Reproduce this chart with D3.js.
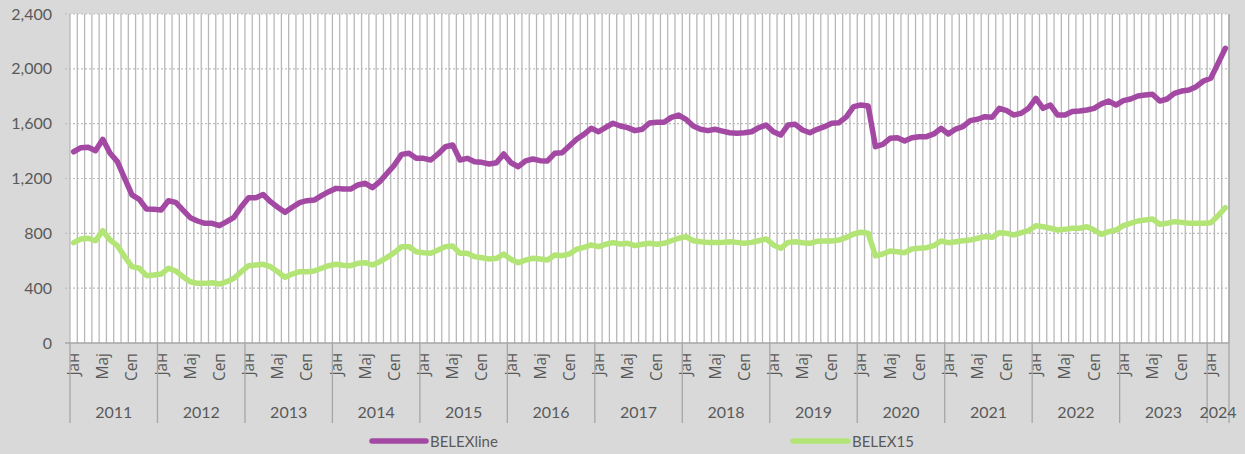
<!DOCTYPE html>
<html>
<head>
<meta charset="utf-8">
<script src="https://cdn.jsdelivr.net/npm/d3@7"></script>
<style>
  html, body { margin: 0; padding: 0; background: #d9d9d9; }
  svg { display: block; font-family: Lato, "Noto Sans", sans-serif; }
</style>
</head>
<body>
<svg id="chart" width="1245" height="454"></svg>
<script>
// ---- data ----
const years = ["2011","2012","2013","2014","2015","2016","2017","2018","2019","2020","2021","2022","2023","2024"];
const monthNames = ["Јан","Феб","Мар","Апр","Мај","Јун","Јул","Авг","Сеп","Окт","Нов","Дец"];
const monthTickLabels = {0: "Јан", 4: "Мај", 8: "Сеп"};
const seriesNames = ["BELEXline", "BELEX15"];
const yTicks = [0, 400, 800, 1200, 1600, 2000, 2400];

const belexline = [
  1395,1425,1428,1403,1486,1384,1323,1201,1080,1048,977,975,
  970,1038,1026,970,914,890,873,873,856,885,917,994,
  1060,1060,1083,1031,990,953,990,1024,1038,1043,1075,1104,
  1128,1123,1123,1153,1165,1133,1177,1238,1298,1376,1384,1347,
  1347,1335,1379,1432,1444,1335,1347,1323,1318,1306,1315,1379,
  1315,1286,1328,1342,1330,1328,1384,1388,1437,1486,1522,1566,
  1541,1573,1603,1583,1571,1549,1559,1605,1610,1610,1646,1663,
  1632,1583,1559,1549,1559,1546,1534,1530,1534,1541,1571,1590,
  1541,1517,1590,1595,1554,1534,1559,1578,1603,1607,1650,1724,
  1736,1729,1432,1449,1493,1498,1474,1498,1505,1505,1525,1566,
  1525,1561,1578,1622,1632,1651,1646,1712,1695,1663,1676,1712,
  1785,1712,1736,1663,1663,1688,1693,1700,1712,1744,1765,1736,
  1768,1780,1802,1809,1814,1765,1780,1821,1838,1846,1870,1911,
  1931,2040,2150
];
const belex15 = [
  732,759,764,746,819,751,710,630,557,545,491,496,
  503,545,525,484,447,435,435,440,430,447,472,520,
  564,569,574,557,520,479,503,520,520,525,545,564,
  574,567,564,581,586,569,593,625,659,703,703,666,
  659,654,678,703,708,654,654,630,622,613,618,649,
  610,586,605,618,613,605,642,637,649,684,698,715,
  703,720,732,722,727,710,720,727,720,727,746,764,
  776,746,739,734,734,734,739,734,727,734,746,759,
  715,691,734,739,732,727,742,744,744,751,770,795,
  808,800,635,649,671,666,659,686,691,695,710,744,
  732,739,746,751,764,776,771,805,800,788,805,819,
  856,848,837,824,829,837,837,848,824,793,812,824,
  856,873,890,897,905,866,873,885,880,873,873,873,
  878,929,987
];

// ---- categories (month index per year) ----
const categories = belexline.map((d, i) => ({
  year: years[Math.floor(i / 12)],
  month: i % 12,
  key: i
}));

// ---- layout ----
const svg = d3.select("#chart");
const W = 1245, H = 454;
const mLeft = 70, mRight = 1229, mTop = 14, mBottom = 343;
const textColor = "#595959";
const colors = ["#a349a4", "#b3e576"];

svg.append("rect").attr("width", W).attr("height", H).attr("fill", "#d9d9d9");

const x = d3.scaleBand().domain(categories.map(d => d.key)).range([mLeft, mRight]).padding(0);
const y = d3.scaleLinear().domain([0, 2400]).range([mBottom, mTop]);
const step = x.step();

// plot area
svg.append("rect").attr("x", mLeft).attr("y", mTop).attr("width", mRight - mLeft).attr("height", mBottom - mTop).attr("fill", "#ffffff");

// vertical gridlines at category boundaries
const boundaries = d3.range(categories.length + 1);
svg.append("g").selectAll("line").data(boundaries).join("line")
  .attr("x1", i => mLeft + i * step).attr("x2", i => mLeft + i * step)
  .attr("y1", mTop).attr("y2", mBottom)
  .attr("stroke", "#b8b8b8").attr("stroke-width", 1.3);

// horizontal dotted gridlines + y axis
const yAxis = d3.axisLeft(y).tickValues(yTicks).tickSize(0).tickPadding(18).tickFormat(d3.format(","));
const gy = svg.append("g").attr("transform", `translate(${mLeft},0)`).call(yAxis);
gy.select(".domain").remove();
gy.selectAll("text").attr("fill", textColor).style("font-size", "16px").style("font-family", "Lato, 'Noto Sans', sans-serif");

svg.append("g").selectAll("line").data(yTicks.filter(d => d > 0)).join("line")
  .attr("x1", mLeft - 5).attr("x2", mRight)
  .attr("y1", d => y(d)).attr("y2", d => y(d))
  .attr("stroke", "#bdbdbd").attr("stroke-width", 1.2).attr("stroke-dasharray", "2,2");

// x axis baseline
svg.append("line").attr("x1", mLeft - 5).attr("x2", mRight).attr("y1", mBottom).attr("y2", mBottom)
  .attr("stroke", "#a6a6a6").attr("stroke-width", 1.3);
svg.append("line").attr("x1", mRight).attr("x2", mRight).attr("y1", mTop).attr("y2", mBottom)
  .attr("stroke", "#a6a6a6").attr("stroke-width", 1.3);

// month labels
const labelled = categories.filter(d => monthTickLabels[d.month] !== undefined);
svg.append("g").selectAll("text").data(labelled).join("text")
  .attr("transform", d => `translate(${x(d.key) + step / 2 + 5.5},353) rotate(-90)`)
  .attr("text-anchor", "end")
  .attr("fill", textColor)
  .style("font-size", "15.5px")
  .style("font-family", "'Open Sans', 'Noto Sans', sans-serif")
  .text(d => monthTickLabels[d.month]);

// year group separators and labels
const yearStarts = years.map((yr, j) => {
  const idx = categories.filter(c => c.year === yr).map(c => c.key);
  return { year: yr, start: d3.min(idx), end: d3.max(idx) + 1 };
});
const sepX = yearStarts.map(d => mLeft + d.start * step).concat([mLeft + categories.length * step]);
svg.append("g").selectAll("line").data(sepX).join("line")
  .attr("x1", d => d).attr("x2", d => d).attr("y1", mBottom).attr("y2", 423)
  .attr("stroke", "#a6a6a6").attr("stroke-width", 1.3);
svg.append("g").selectAll("text").data(yearStarts).join("text")
  .attr("x", d => mLeft + (d.start + d.end) / 2 * step)
  .attr("y", 418)
  .attr("text-anchor", "middle")
  .attr("fill", textColor)
  .style("font-size", "16px")
  .text(d => d.year);

// lines
const line = d3.line().x((d, i) => x(i) + step / 2).y(d => y(d)).curve(d3.curveLinear);
[belexline, belex15].forEach((s, k) => {
  svg.append("path").datum(s)
    .attr("d", line)
    .attr("fill", "none")
    .attr("stroke", colors[k])
    .attr("stroke-width", 5.5)
    .attr("stroke-linejoin", "round")
    .attr("stroke-linecap", "round");
});

// legend
const legendPos = [{x1: 372, x2: 426, tx: 430}, {x1: 793, x2: 848, tx: 852}];
seriesNames.forEach((name, k) => {
  const p = legendPos[k];
  svg.append("line").attr("x1", p.x1).attr("x2", p.x2).attr("y1", 441).attr("y2", 441)
    .attr("stroke", colors[k]).attr("stroke-width", 5.5).attr("stroke-linecap", "round");
  svg.append("text").attr("x", p.tx).attr("y", 447)
    .attr("fill", textColor).style("font-size", "15px").text(name);
});
</script>
</body>
</html>
